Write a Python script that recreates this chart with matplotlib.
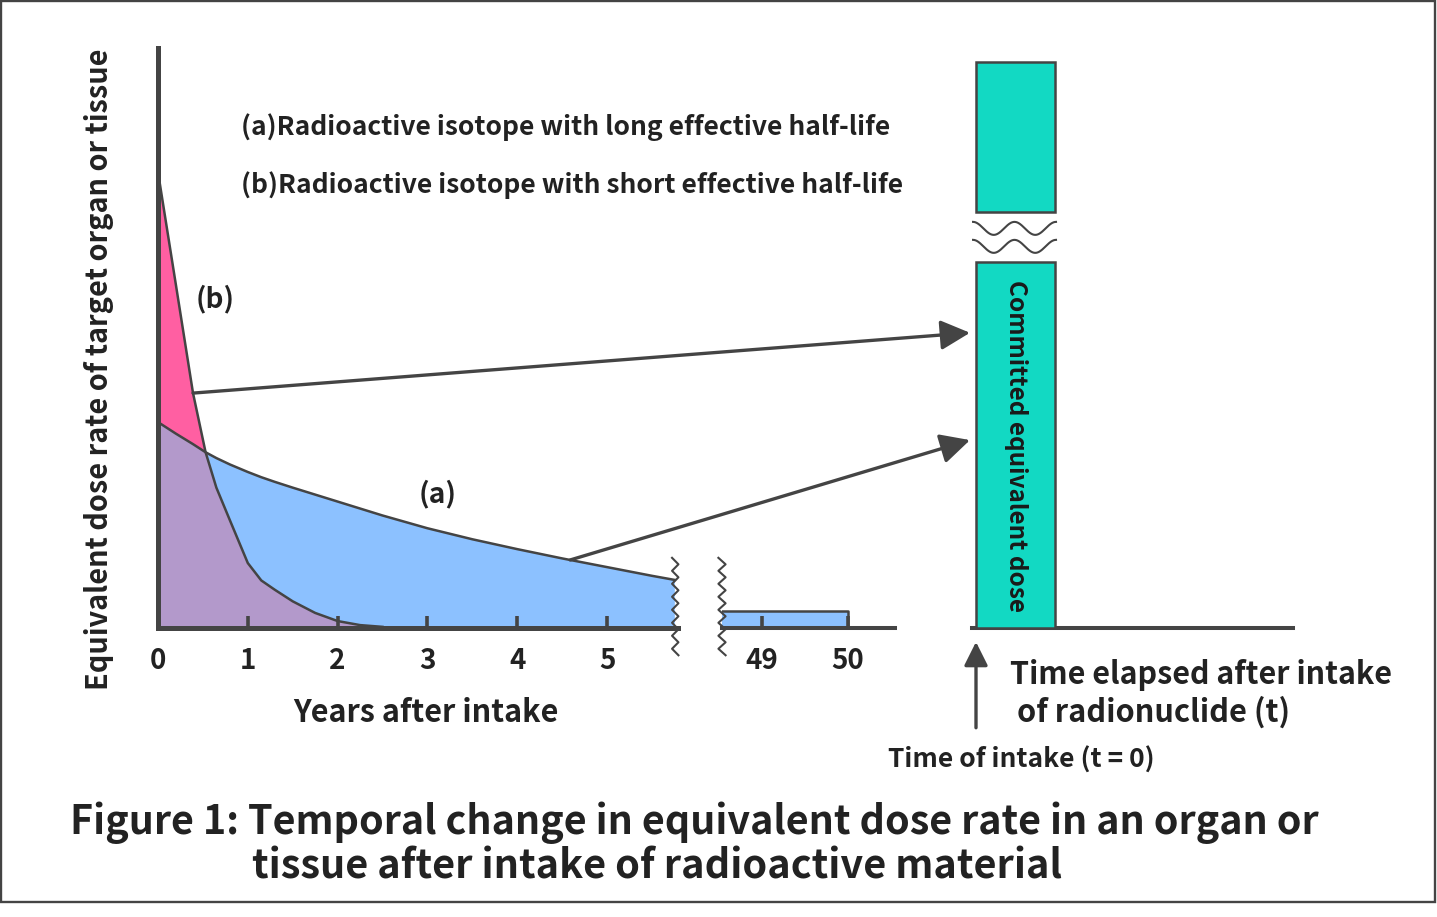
import numpy as np
import matplotlib
matplotlib.use('Agg')
import matplotlib.pyplot as plt
from matplotlib.patches import Rectangle

# ---------------- data ----------------
years = [0, 0.2, 0.39, 0.53, 0.65, 0.8, 1.0, 1.15, 1.3, 1.5, 1.75, 2.0,
         2.25, 2.5, 3.0, 3.5, 4.0, 4.5, 5.0, 5.5, 5.75]
dose_rate_a = [35.5, 33.5, 31.7, 30.3, 29.3, 28.2, 26.9, 26.0, 25.2, 24.2, 23.0,
               21.8, 20.6, 19.4, 17.2, 15.3, 13.6, 12.0, 10.5, 9.0, 8.3]
dose_rate_b = [78.6, 59.1, 40.5, 30.3, 24.2, 18.6, 11.2, 8.2, 6.6, 4.6, 2.6,
               1.2, 0.5, 0.2, 0.0, 0.0, 0.0, 0.0, 0.0, 0.0, 0.0]
tail_years = [48.54, 50.0]
tail_dose_a = [2.9, 2.9]
ticks_left = [0, 1, 2, 3, 4, 5]
ticks_right = [49, 50]
committed_dose = 97.6
committed_break = (63.1, 71.7)
arrow_from_b_year = 0.39
arrow_from_a_year = 4.59
arrow_targets = [50.9, 32.4]

# ---------------- style ----------------
PINK = '#FF5FA2'
PURPLE = '#B399CB'
BLUE = '#8CC1FF'
TEAL = '#12D9C3'
LINE = '#444444'
TEXT = '#222222'

plt.rcParams['font.family'] = ['Noto Sans CJK JP', 'DejaVu Sans']
plt.rcParams['font.weight'] = 'bold'

W, H = 1437, 917
fig = plt.figure(figsize=(W / 100, H / 100), dpi=100)
fig.patch.set_facecolor('white')


def fx(px):
    return px / W


def fy(py):
    return 1 - py / H


Y0, Y1 = 628, 48
ax1 = fig.add_axes([fx(158), fy(Y0), (678 - 158) / W, (Y0 - Y1) / H])
ax2 = fig.add_axes([fx(722), fy(Y0), (895 - 722) / W, (Y0 - Y1) / H])
ax3 = fig.add_axes([fx(972), fy(Y0), (1293 - 972) / W, (Y0 - Y1) / H])

for ax in (ax1, ax2, ax3):
    ax.set_ylim(0, 100)
    ax.set_facecolor('none')
    ax.set_yticks([])
    for s in ax.spines.values():
        s.set_visible(False)
    ax.spines['bottom'].set_visible(True)
    ax.spines['bottom'].set_color(LINE)

# ---------------- left panel ----------------
t = np.array(years)
a = np.array(dose_rate_a)
b = np.array(dose_rate_b)
ax1.set_xlim(0, 520 / 89.8)
ax1.fill_between(t, 0, np.minimum(a, b), color=PURPLE, lw=0)
ax1.fill_between(t, a, b, where=b >= a, interpolate=True, color=PINK, lw=0)
ax1.fill_between(t, b, a, where=a >= b, interpolate=True, color=BLUE, lw=0)
ax1.plot(t, a, color=LINE, lw=1.8, solid_joinstyle='round')
ax1.plot(t[b > 0], b[b > 0], color=LINE, lw=1.8, solid_joinstyle='round')
ax1.spines['left'].set_visible(True)
ax1.spines['left'].set_color(LINE)
ax1.spines['left'].set_linewidth(3.6)
ax1.spines['bottom'].set_linewidth(3.6)
ax1.set_xticks(ticks_left)
ax1.set_xticklabels([str(v) for v in ticks_left])

# ---------------- right (49-50) panel ----------------
ax2.set_xlim(48.54, 50.55)
ax2.fill_between(tail_years, 0, tail_dose_a, color=BLUE, lw=0)
ax2.plot([tail_years[0], tail_years[1], tail_years[1]],
         [tail_dose_a[0], tail_dose_a[1], 0], color=LINE, lw=1.8)
ax2.spines['bottom'].set_linewidth(2.9)
ax2.set_xticks(ticks_right)
ax2.set_xticklabels([str(v) for v in ticks_right])

for ax in (ax1, ax2):
    ax.tick_params(axis='x', direction='in', length=9, width=2.6, color=LINE,
                   labelsize=20, labelcolor=TEXT, pad=14)

# break marks (zigzags)
def zigzag(ax, xc, dx, y_lo, y_hi, step):
    ys = np.arange(y_hi, y_lo - 1e-9, -step)
    xs = xc + dx * np.where(np.arange(len(ys)) % 2 == 0, -1, 1)
    ax.plot(xs, ys, color=LINE, lw=1.5, clip_on=False, zorder=5)

zigzag(ax1, years[-1] + 0.01, 3.2 / 89.8, -5.5, 12.1, 1.12)
zigzag(ax2, 48.54, 3.6 / 86, -5.5, 12.1, 1.12)

# ---------------- committed dose bar ----------------
ax3.set_xlim(0, 1)
ax3.set_xticks([])
ax3.spines['bottom'].set_linewidth(2.9)
bx, bw = 4 / 321, 79 / 321
ax3.bar([bx], [committed_break[0]], width=bw, align='edge', color=TEAL,
        edgecolor=LINE, lw=1.8, zorder=3)
ax3.bar([bx], [committed_dose - committed_break[1]], bottom=committed_break[1],
        width=bw, align='edge', color=TEAL, edgecolor=LINE, lw=1.8, zorder=3)
u = np.linspace(0, 1, 200)
xw = 1 / 321 + u * (83 / 321)
for c in (68.9, 65.8):
    ax3.plot(xw, c + 1.12 * np.cos(2 * np.pi * 2 * u), color=LINE, lw=1.5, zorder=4)

# up arrow (time of intake)
ax3.annotate('', xy=(bx, -2.4), xytext=(bx, -17.2), xycoords='data',
             arrowprops=dict(arrowstyle='-|>,head_length=0.9,head_width=0.45',
                             lw=2.4, color=LINE, shrinkA=0, shrinkB=0,
                             mutation_scale=16),
             annotation_clip=False)

# long arrows from curves to bar
starts = [(arrow_from_b_year, np.interp(arrow_from_b_year, t, b)),
          (arrow_from_a_year, np.interp(arrow_from_a_year, t, a))]
for (sx, sy), ty in zip(starts, arrow_targets):
    ax3.annotate('', xy=(-2 / 321, ty), xycoords=ax3.transData,
                 xytext=(sx, sy), textcoords=ax1.transData,
                 arrowprops=dict(arrowstyle='-|>,head_length=0.75,head_width=0.38',
                                 lw=2.4, color=LINE, shrinkA=0, shrinkB=0,
                                 mutation_scale=24),
                 annotation_clip=False, zorder=6)

# ---------------- texts ----------------
renderer = fig.canvas.get_renderer()


def place(x, y, s, target, ha='left', rotation=0, color=TEXT):
    tx = fig.text(fx(x), fy(y), s, ha=ha, va='center', rotation=rotation,
                  fontsize=20, color=color, fontweight='bold')
    bb = tx.get_window_extent(renderer)
    size = bb.height if rotation else bb.width
    tx.set_fontsize(20 * target / size)
    return tx


place(241, 127, '(a)Radioactive isotope with long effective half-life', 649)
place(241, 185, '(b)Radioactive isotope with short effective half-life', 662)
place(215, 299, '(b)', 39, ha='center')
place(438, 494, '(a)', 38, ha='center')
place(426, 713, 'Years after intake', 266, ha='center')
place(99, 369, 'Equivalent dose rate of target organ or tissue', 642, ha='center',
      rotation=90)
place(1010, 675, 'Time elapsed after intake', 383)
place(1017, 712, 'of radionuclide (t)', 273)
place(888, 760, 'Time of intake (t = 0)', 267)
place(70, 823, 'Figure 1: Temporal change in equivalent dose rate in an organ or', 1252)
place(252, 867, 'tissue after intake of radioactive material', 810)
place(1016, 446, 'Committed equivalent dose', 332, ha='center', rotation=-90,
      color='#1a1a1a')

# outer frame
fig.patches.append(Rectangle((fx(1), fy(902)), (1435 - 1) / W, (902 - 1) / H,
                             transform=fig.transFigure, fill=False, lw=1.7,
                             ec=LINE))

fig.savefig('out.png', dpi=100, facecolor='white')
